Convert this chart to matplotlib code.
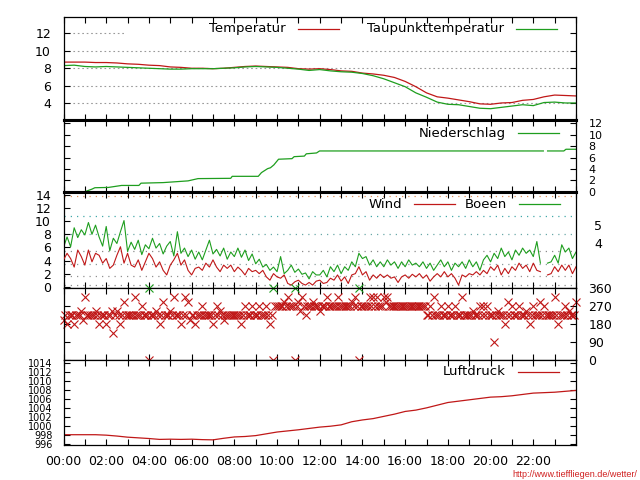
import numpy as np
import matplotlib
matplotlib.use("Agg")
import matplotlib.pyplot as plt

plt.rcParams['font.family'] = ['DejaVu Sans']

# ---------------- data ----------------
temp = [8.7, 8.7, 8.7, 8.65, 8.65, 8.6, 8.5, 8.45, 8.35, 8.3, 8.15, 8.1, 8.0, 8.0, 7.95, 8.0,
        8.1, 8.2, 8.25, 8.2, 8.15, 8.1, 7.95, 7.9, 7.95, 7.85, 7.7, 7.65, 7.45, 7.35, 7.2, 6.95,
        6.5, 5.9, 5.2, 4.75, 4.6, 4.4, 4.2, 3.95, 3.9, 4.05, 4.1, 4.35, 4.45, 4.75, 4.95, 4.9, 4.85]
dew = [8.3, 8.35, 8.2, 8.15, 8.2, 8.15, 8.1, 8.05, 8.0, 7.95, 7.9, 7.9, 7.95, 7.95, 7.95, 8.0,
       8.05, 8.15, 8.2, 8.15, 8.1, 8.0, 7.9, 7.75, 7.85, 7.7, 7.6, 7.55, 7.4, 7.15, 6.8, 6.35,
       5.9, 5.2, 4.7, 4.15, 3.9, 3.85, 3.65, 3.45, 3.4, 3.55, 3.7, 3.85, 3.75, 4.1, 4.15, 4.05, 4.05]
pressure = [998.0, 998.0, 998.0, 998.0, 997.9, 997.7, 997.45, 997.3, 997.15, 996.95, 997.0, 996.95,
            997.0, 996.9, 996.85, 997.2, 997.5, 997.6, 997.8, 998.2, 998.6, 998.85, 999.1, 999.4,
            999.7, 999.9, 1000.2, 1000.9, 1001.3, 1001.6, 1002.1, 1002.6, 1003.2, 1003.5, 1004.0,
            1004.6, 1005.2, 1005.5, 1005.8, 1006.1, 1006.4, 1006.5, 1006.7, 1007.0, 1007.3, 1007.4,
            1007.5, 1007.7, 1007.9]
hours_30 = np.arange(len(temp)) * 0.5

precip_t = [0, 1.0, 1.33, 1.47, 2.1, 2.72, 3.53, 3.63, 4.67, 5.83, 6.3, 7.83, 7.9, 9.12, 9.27,
            9.56, 9.69, 9.85, 10.07, 10.7, 10.8, 11.28, 11.37, 11.85, 11.99, 22.47, 22.5, 22.67,
            23.43, 23.53, 24]
precip_v = [0, 0, 0.45, 0.7, 0.75, 1.1, 1.1, 1.5, 1.6, 1.9, 2.3, 2.35, 2.7, 2.7, 3.35, 4.05, 4.2,
            4.7, 5.7, 5.8, 6.15, 6.25, 6.65, 6.8, 7.15, 7.15, np.nan, 7.15, 7.15, 7.45, 7.45]

nan = np.nan
wind = [4.1, 5.1, 4.3, 3.0, 5.6, 4.6, 3.3, 5.6, 3.8, 5.1,
        4.8, 3.6, 4.3, 2.8, 3.3, 4.8, 6.1, 3.6, 5.1, 3.3,
        3.0, 4.1, 2.5, 3.8, 5.1, 4.3, 3.0, 3.8, 2.5, 1.8,
        3.3, 4.1, 5.1, 3.3, 4.1, 2.5, 1.8, 2.8, 3.0, 2.5,
        3.6, 3.0, 4.1, 3.0, 2.3, 3.3, 2.8, 3.3, 2.3, 3.0,
        2.5, 1.8, 2.8, 2.3, 2.5, 2.0, 2.5, 1.5, 1.0, 2.0,
        1.5, 1.3, 1.8, 0.5, 0.25, 0.75, 1.0, 0.5, 0.25, 0.65,
        0.25, 0.85,
        1.0, 0.5, 0.65, 1.3, 1.0, 1.8, 0.85, 1.5, 0.5, 1.8,
        2.0, 3.05, 1.8, 2.3, 1.0, 1.8, 1.3, 1.9, 1.4, 1.8,
        1.3, 1.5, 0.65, 1.5, 1.8, 1.3, 1.9, 1.5, 2.0, 1.3,
        1.8, 0.85, 1.5, 2.0, 1.5, 2.3, 1.5, 2.0, 1.3, 0.25,
        1.8, 1.5, 2.0, 1.8, 2.3, 1.8, 2.5, 2.0, 3.05, 2.5,
        3.3, 1.8, 2.8, 2.0, 3.05, 2.5, 3.6, 2.8, 3.3, 2.3,
        3.6, 2.5, 2.3, nan, 1.8, 2.0, 3.05, 2.3, 3.3, 2.5,
        3.3, 2.0, 3.05]
gust = [6.0, 7.6, 6.1, 9.0, 7.5, 8.7, 7.9, 9.8, 8.0, 9.4,
        7.6, 6.2, 9.2, 5.5, 7.4, 6.6, 8.4, 10.1, 5.4, 6.8,
        5.7, 7.1, 4.9, 6.4, 5.8, 7.4, 5.9, 6.6, 5.0, 6.2,
        6.9, 4.7, 8.4, 5.1, 5.9, 4.6, 5.6, 4.2, 5.3, 4.1,
        5.6, 7.1, 5.0, 5.7, 4.7, 5.9, 4.2, 5.3, 4.6, 5.9,
        4.5, 5.6, 4.0, 5.0, 3.5, 4.2, 3.0, 3.4, 2.5, 3.0,
        2.3, 4.6, 2.0, 2.5, 3.3, 2.2, 2.7, 1.9, 2.1, 1.2,
        2.3, 1.8,
        1.8, 2.5, 1.5, 3.05, 2.3, 3.3, 2.0, 3.05, 2.5, 3.8,
        3.05, 5.1, 4.3, 4.6, 3.3, 4.1, 3.05, 3.8, 3.05, 4.1,
        3.3, 3.8, 2.8, 3.8, 3.05, 4.1, 3.3, 3.6, 3.05, 3.8,
        2.8, 3.6, 2.5, 3.3, 4.1, 3.05, 3.8, 2.5, 3.6, 3.05,
        3.8, 2.8, 4.1, 3.05, 3.8, 2.5, 4.1, 4.8, 3.8, 5.1,
        4.3, 5.9, 4.6, 5.3, 4.1, 5.6, 4.8, 5.9, 5.1, 5.6,
        4.6, 6.9, 3.6, nan, 3.6, 3.8, 4.8, 3.6, 6.4, 5.3,
        5.9, 4.3, 5.3]
hours_10 = np.arange(len(wind)) / 6.0

# wind direction samples (on the 10-minute marks and 5 minutes later)
dir_a = [202.5, 180, 225, 180, 225, 247.5, 315, 225, 225, 247.5,
         180, 225, 180, 225, 135, 247.5, 180, 292.5, 225, 225,
         315, 225, 270, 225, 0, 225, 247.5, 180, 292.5, 225,
         247.5, 315, 225, 180, 315, 292.5, 225, 180, 225, 270,
         225, 225, 180, 270, 247.5, 202.5, 225, 225, 225, 225,
         180, 270, 225, 270, 225, 270, 225, 270, 180, 0,
         270, 270, 292.5, 315, 270, 0, 292.5, 315, 225, 270,
         292.5, 270, 247.5, 270, 315, 270, 270, 315, 270, 270,
         270, 292.5, 315, 0, 270, 270, 315, 315, 315, 270,
         315, 315, 270, 270, 270, 270, 270, 270, 270, 270,
         270, 270, 225, 270, 315, 225, 270, 225, 270, 225,
         270, 225, 315, 225, 225, 247.5, 225, 270, 270, 270,
         225, 90, 247.5, 225, 180, 292.5, 270, 225, 270, 225,
         247.5, 180, 270, 225, 292.5, 270, 225, 225, 315, 180,
         225, 270, 247.5, 225, 292.5]
dir_b = [225, 225, 225, 225, 225, 202.5, 225, 225, 225, 225,
         225, 225, 225, 247.5, 225, 225, 225, 225, 225, 225,
         225, 225, 225, 225, 225, 225, 225, 225, 225, 225,
         225, 225, 225, 225, 225, 202.5, 225, 225, 225, 225,
         225, 225, 225, 225, 225, 225, 225, 225, 225, 225,
         225, 225, 225, 225, 225, 225, 225, 225, 225,
         270, 270, 270, 270, 270, 270, 270, 247.5, 270, 270,
         270, 270, 270, 270, 270, 270, 270, 270, 270, 270,
         270, 270, 270, 270, 270, 270, 270, 270, 270, 270,
         270, 292.5, 270, 270, 270, 270, 270, 270, 270, 270,
         270, 270, 270,
         225, 225, 225, 225, 225, 225, 225, 225, 225, 225,
         225, 225, 225, 225, 225,
         225, 225, 225, 225, 225, 225, 225, 225, 225, 225,
         225, 225, 225, 225, 225, 225, 225, 225, 225, 225,
         225, 225, 225, 225, 225, 225, 225]
hours_dir_a = np.arange(len(dir_a)) / 6.0
hours_dir_b = np.arange(len(dir_b)) / 6.0 + 1.0 / 12.0

beaufort_limits = [0.3, 1.6, 3.4, 5.5, 8.0, 10.8, 13.9]
beaufort_colors = ['#909090', '#909090', '#8a9a9a', '#8a8a8a', '#6aa8a8', '#40a8a8', '#e0905a']
beaufort_ticks = [6.75, 9.4]
beaufort_labels = ['4', '5']

x_labels = ['00:00', '02:00', '04:00', '06:00', '08:00', '10:00', '12:00',
            '14:00', '16:00', '18:00', '20:00', '22:00', '']

RED = '#c01818'
GREEN = '#1e9e1e'
FS = 9

# ---------------- layout ----------------
fig = plt.figure(figsize=(6.4, 4.8), dpi=100)
L, W = 63.5 / 640, 512.5 / 640


def axpos(top_px, bot_px):
    return [L, 1 - bot_px / 480, W, (bot_px - top_px) / 480]


ax1 = fig.add_axes(axpos(17, 119.5))
ax2 = fig.add_axes(axpos(119.5, 192))
ax3 = fig.add_axes(axpos(192, 288.3))
ax4 = fig.add_axes(axpos(288.3, 360))
ax5 = fig.add_axes(axpos(360, 445))


def base(ax, bottom_labels=False):
    ax.set_xlim(0, 24)
    ax.set_xticks(np.arange(0, 25, 2))
    ax.set_xticks(np.arange(1, 24, 2), minor=True)
    ax.tick_params(axis='both', which='both', direction='in', length=4, width=0.8,
                   top=True, bottom=True, left=True, right=True, labelsize=FS)
    ax.tick_params(axis='y', pad=9)
    ax.tick_params(axis='x', pad=7)
    if bottom_labels:
        ax.set_xticklabels(x_labels)
    else:
        ax.set_xticklabels([])
    for s in ax.spines.values():
        s.set_linewidth(0.9)


def key(ax, xr, y, label, color):
    ax.text(xr, y, label, transform=ax.transAxes, ha='right', va='center', fontsize=9.5,
            zorder=5)
    ax.plot([xr + 0.024, xr + 0.104], [y, y], transform=ax.transAxes, color=color, lw=0.9,
            clip_on=False, zorder=5)


# Panel 1: temperature
base(ax1)
ax1.set_ylim(2.17, 13.83)
ax1.set_yticks([4, 6, 8, 10, 12])
for g in [4, 6, 8, 10, 12]:
    ax1.axhline(g, color='#9a9a9a', lw=0.8, ls=(0, (1.5, 2.5)), zorder=0.5)
ax1.add_patch(plt.Rectangle((0.12, 0.77), 0.88, 0.23, transform=ax1.transAxes,
                            facecolor='white', edgecolor='none', zorder=1))
ax1.plot(hours_30, temp, color=RED, lw=0.9, zorder=2)
ax1.plot(hours_30, dew, color=GREEN, lw=0.9, zorder=2)
key(ax1, 0.434, 0.883, 'Temperatur', RED)
key(ax1, 0.859, 0.883, 'Taupunkttemperatur', GREEN)
ax1.spines['bottom'].set_linewidth(2.2)

# Panel 2: precipitation
base(ax2)
ax2.set_ylim(-0.05, 12.67)
ax2.set_yticks(np.arange(0, 13, 2))
ax2.tick_params(axis='y', labelleft=False, labelright=True, labelsize=8)
ax2.plot(precip_t, precip_v, color=GREEN, lw=0.9)
key(ax2, 0.863, 0.81, 'Niederschlag', GREEN)
ax2.spines['top'].set_linewidth(2.2)
ax2.spines['bottom'].set_linewidth(2.2)

# Panel 3: wind / gusts
base(ax3)
ax3.set_ylim(-0.24, 14.46)
ax3.set_yticks(np.arange(0, 15, 2))
for lim, c in zip(beaufort_limits, beaufort_colors):
    ax3.axhline(lim, color=c, lw=0.9, ls=(0, (1, 4)), zorder=0.5)
ax3.plot(hours_10, gust, color=GREEN, lw=0.8, zorder=2)
ax3.plot(hours_10, wind, color=RED, lw=0.8, zorder=3)
key(ax3, 0.66, 0.872, 'Wind', RED)
key(ax3, 0.865, 0.872, 'Boeen', GREEN)
ax3.spines['top'].set_linewidth(2.2)
ax3r = ax3.twinx()
ax3r.set_position(ax3.get_position())
ax3r.set_ylim(ax3.get_ylim())
ax3r.set_yticks(beaufort_ticks)
ax3r.set_yticklabels(beaufort_labels)
ax3r.tick_params(axis='y', length=0, pad=13, labelsize=FS)
for s in ax3r.spines.values():
    s.set_visible(False)

# Panel 4: wind direction
base(ax4)
ax4.set_ylim(0, 360)
ax4.set_yticks([0, 90, 180, 270, 360])
ax4.tick_params(axis='y', labelleft=False, labelright=True)
ax4.plot(hours_dir_b, dir_b, ls='none', marker='x', ms=5.5, mew=0.8, color=RED, clip_on=False)
ax4.plot(hours_dir_a, dir_a, ls='none', marker='x', ms=5.5, mew=0.8, color=RED, clip_on=False)
north_hours = [h for h, d in zip(hours_dir_a, dir_a) if d == 0]
ax4.plot(north_hours, [360] * len(north_hours), ls='none', marker='x', ms=5.5, mew=0.8,
         color=GREEN, clip_on=False)

# Panel 5: pressure
base(ax5, bottom_labels=True)
ax5.set_ylim(995.7, 1014.7)
ax5.set_yticks(np.arange(996, 1015, 2))
ax5.tick_params(axis='y', labelsize=7, pad=8)
ax5.plot(hours_30, pressure, color=RED, lw=0.9)
key(ax5, 0.863, 0.862, 'Luftdruck', RED)

fig.text(0.995, 0.002, 'http://www.tieffliegen.de/wetter/', ha='right', va='bottom',
         color='#d02020', fontsize=6.5,
         family=['Liberation Sans Narrow', 'Liberation Sans', 'DejaVu Sans'])

fig.savefig('out.png', dpi=100)
